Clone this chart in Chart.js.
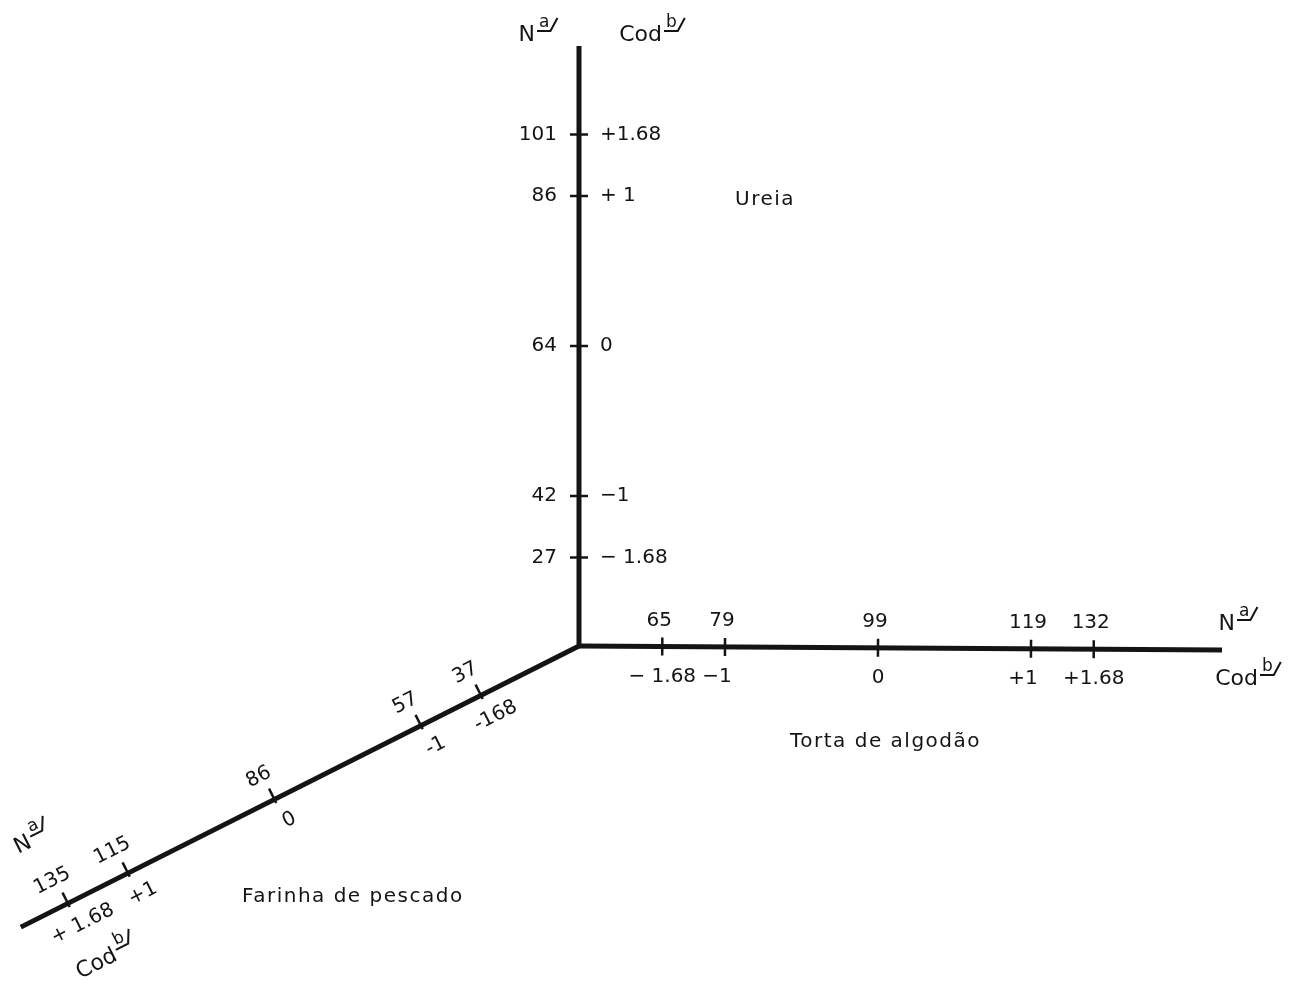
<!DOCTYPE html>
<html>
<head>
<meta charset="utf-8">
<script src="https://cdn.jsdelivr.net/npm/chart.js@4.4.1/dist/chart.umd.min.js"></script>
<style>
  html, body { margin: 0; background: #fff; }
  #wrap { width: 1290px; height: 987px; position: relative; }
</style>
</head>
<body>
<div id="wrap"><canvas id="grafico"></canvas></div>
<script>
// níveis codificados, comuns aos três eixos
const codigos = [-1.68, -1, 0, 1, 1.68];
// onde a figura coloca cada nível sobre o eixo (em unidades codificadas)
const posicaoNivel = [-1.41, -1, 0, 1, 1.41];

// N em cada nível, por fonte
const nUreia = [27, 42, 64, 86, 101];
const nTorta = [65, 79, 99, 119, 132];
const nFarinha = [37, 57, 86, 115, 135];

// textos dos códigos como aparecem em cada eixo
const codUreia = ['\u2212 1.68', '\u22121', '0', '+ 1', '+1.68'];
const codTorta = ['\u2212 1.68', '\u22121', '0', '+1', '+1.68'];
const codFarinha = ['-168', '-1', '0', '+1', '+ 1.68'];

const fontes = ['Ureia', 'Torta de algodão', 'Farinha de pescado'];

// === GEOMETRIA DOS EIXOS (em unidades do gráfico = pixels da figura) ===
const origem = { x: 579, y: 646 };
function unit(v) { const n = Math.hypot(v[0], v[1]); return [v[0] / n, v[1] / n]; }
const eixos = [
  { nome: fontes[0], dir: unit([0, -1]), centro: 300, unidade: 150, comp: 600, n: nUreia, cod: codUreia },
  { nome: fontes[1], dir: unit([643, 4]), centro: 299, unidade: 153, comp: 643, n: nTorta, cod: codTorta },
  { nome: fontes[2], dir: unit([-558, 281]), centro: 341, unidade: 164, comp: 625, n: nFarinha, cod: codFarinha }
];
function ponto(e, d) { return { x: origem.x + e.dir[0] * d, y: origem.y + e.dir[1] * d }; }
function distNivel(e, i) { return e.centro + posicaoNivel[i] * e.unidade; }

// normal "para cima" do eixo diagonal
const uDiag = [-eixos[2].dir[0], -eixos[2].dir[1]];
const nDiag = [uDiag[1], -uDiag[0]];
const angDiag = Math.atan2(uDiag[1], uDiag[0]);

const datasets = [];
eixos.forEach(e => {
  datasets.push({
    data: [origem, ponto(e, e.comp)],
    showLine: true, borderColor: '#141414', borderWidth: 5,
    pointRadius: 0, borderCapStyle: 'butt'
  });
});
eixos.forEach(e => {
  datasets.push({
    data: [origem, ponto(e, e.comp)],
    showLine: true, borderColor: 'rgba(255,255,255,0.35)', borderWidth: 1,
    pointRadius: 0
  });
});
// traços dos níveis
eixos.forEach((e, k) => {
  const pts = codigos.map((c, i) => {
    const p = ponto(e, distNivel(e, i));
    if (k === 2) { p.x += nDiag[0] * 4; p.y += nDiag[1] * 4; }
    return p;
  });
  const ang = Math.atan2(e.dir[1], e.dir[0]) * 180 / Math.PI + 90;
  datasets.push({
    data: pts, showLine: false,
    pointStyle: 'line', pointRotation: ang,
    pointRadius: k === 2 ? 8 : 9,
    pointBorderWidth: 2.5, pointBorderColor: '#141414'
  });
});

const FONTE = '"DejaVu Sans", sans-serif';

function rotuloSup(ctx, base, sup, x, y, ang) {
  ctx.save();
  ctx.translate(x, y);
  ctx.rotate(ang || 0);
  ctx.fillStyle = '#141414';
  ctx.strokeStyle = '#141414';
  ctx.textAlign = 'left';
  ctx.textBaseline = 'alphabetic';
  ctx.font = '22px ' + FONTE;
  const wb = ctx.measureText(base).width;
  ctx.font = '17px ' + FONTE;
  const ws = ctx.measureText(sup).width;
  const x0 = -(wb + 4 + ws + 8) / 2;
  ctx.font = '22px ' + FONTE;
  ctx.fillText(base, x0, 8);
  ctx.font = '17px ' + FONTE;
  ctx.fillText(sup, x0 + wb + 4, -6);
  ctx.lineWidth = 2;
  ctx.beginPath();
  ctx.moveTo(x0 + wb + 2, -2);
  ctx.lineTo(x0 + wb + 5 + ws, -2);
  ctx.lineTo(x0 + wb + 12 + ws, -15);
  ctx.stroke();
  ctx.restore();
}

function texto(ctx, s, x, y, align, ang, size) {
  ctx.save();
  ctx.translate(x, y);
  ctx.rotate(ang || 0);
  ctx.font = (size || 20) + 'px ' + FONTE;
  ctx.fillStyle = '#141414';
  ctx.textAlign = align || 'center';
  ctx.textBaseline = 'middle';
  ctx.fillText(s, 0, 0);
  ctx.restore();
}

const rotulos = {
  id: 'rotulos',
  afterDatasetsDraw(chart) {
    const ctx = chart.ctx;
    const sx = chart.scales.x, sy = chart.scales.y;
    const px = p => ({ x: sx.getPixelForValue(p.x), y: sy.getPixelForValue(p.y) });

    // eixo vertical (Ureia)
    const ev = eixos[0];
    codigos.forEach((c, i) => {
      const p = px(ponto(ev, distNivel(ev, i)));
      texto(ctx, String(ev.n[i]), p.x - 22, p.y, 'right');
      texto(ctx, ev.cod[i], p.x + 21, p.y, 'left');
    });
    // eixo horizontal (Torta de algodão)
    const eh = eixos[1];
    codigos.forEach((c, i) => {
      const p = px(ponto(eh, distNivel(eh, i)));
      texto(ctx, String(eh.n[i]), p.x - 3, p.y - 26, 'center');
      // nos níveis ±1 o sinal fica à esquerda do traço
      const desl = Math.abs(codigos[i]) === 1 ? -8 : 0;
      texto(ctx, eh.cod[i], p.x + desl, p.y + 30, 'center');
    });
    // eixo diagonal (Farinha de pescado)
    const ed = eixos[2];
    codigos.forEach((c, i) => {
      const p = px(ponto(ed, distNivel(ed, i)));
      texto(ctx, String(ed.n[i]), p.x + nDiag[0] * 27 - uDiag[0] * 4, p.y + nDiag[1] * 27 - uDiag[1] * 4, 'center', angDiag);
      texto(ctx, ed.cod[i], p.x - nDiag[0] * 25 + uDiag[0] * 4, p.y - nDiag[1] * 25 + uDiag[1] * 4, 'center', angDiag);
    });

    // nomes das fontes
    ctx.save();
    ctx.letterSpacing = '1.5px';
    texto(ctx, fontes[0], 735, 200, 'left');
    texto(ctx, fontes[1], 790, 742, 'left');
    texto(ctx, fontes[2], 242, 897, 'left');
    ctx.restore();

    // títulos dos eixos
    rotuloSup(ctx, 'N', 'a', 538, 33, 0);
    rotuloSup(ctx, 'Cod', 'b', 652, 33, 0);
    rotuloSup(ctx, 'N', 'a', 1238, 622, 0);
    rotuloSup(ctx, 'Cod', 'b', 1248, 677, 0);
    rotuloSup(ctx, 'N', 'a', 32, 838, angDiag);
    rotuloSup(ctx, 'Cod', 'b', 106, 957, angDiag);
  }
};

new Chart(document.getElementById('grafico'), {
  type: 'scatter',
  data: { datasets },
  options: {
    responsive: true,
    maintainAspectRatio: false,
    animation: false,
    events: [],
    layout: { padding: 0, autoPadding: false },
    plugins: { legend: { display: false }, tooltip: { enabled: false } },
    scales: {
      x: { type: 'linear', min: 0, max: 1290, display: false },
      y: { type: 'linear', min: 0, max: 987, reverse: true, display: false }
    }
  },
  plugins: [rotulos]
});
</script>
</body>
</html>
